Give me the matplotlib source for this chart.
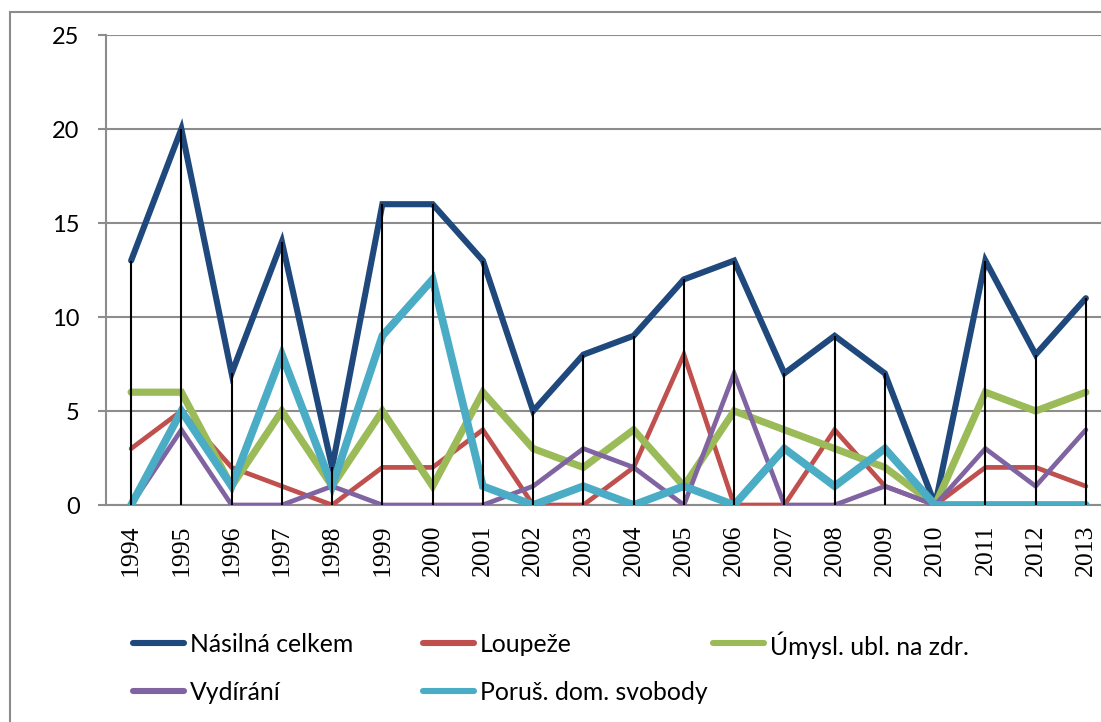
import matplotlib
matplotlib.use("Agg")
import matplotlib.pyplot as plt
from matplotlib.lines import Line2D
from matplotlib.patches import Rectangle
import numpy as np

years = [str(y) for y in range(1994, 2014)]
nasilna = [13, 20, 7, 14, 2, 16, 16, 13, 5, 8, 9, 12, 13, 7, 9, 7, 0, 13, 8, 11]
loupeze = [3, 5, 2, 1, 0, 2, 2, 4, 0, 0, 2, 8, 0, 0, 4, 1, 0, 2, 2, 1]
umysl = [6, 6, 1, 5, 1, 5, 1, 6, 3, 2, 4, 1, 5, 4, 3, 2, 0, 6, 5, 6]
vydirani = [0, 4, 0, 0, 1, 0, 0, 0, 1, 3, 2, 0, 7, 0, 0, 1, 0, 3, 1, 4]
porus = [0, 5, 1, 8, 1, 9, 12, 1, 0, 1, 0, 1, 0, 3, 1, 3, 0, 0, 0, 0]

labels = ["Násilná celkem", "Loupeže", "Úmysl. ubl. na zdr.", "Vydírání", "Poruš. dom. svobody"]
series = [nasilna, loupeze, umysl, vydirani, porus]
colors = ["#1F497D", "#C0504D", "#9BBB59", "#8064A2", "#4BACC6"]
widths = [4.4, 3.4, 5.2, 3.4, 5.6]

W, H = 1101, 722
fig = plt.figure(figsize=(W / 100, H / 100), dpi=100)
fig.patch.set_facecolor("white")

# outer chart border (cropped on right and bottom)
fig.patches.append(Rectangle((10 / W, -0.1), 1.2, (H - 12) / H + 0.1, transform=fig.transFigure,
                             fill=False, edgecolor="#8C8C8C", linewidth=1.5))

left, right, top, bottom = 106, 1111, 35, 505
ax = fig.add_axes([left / W, (H - bottom) / H, (right - left) / W, (bottom - top) / H])
x = np.arange(len(years))

for s, c, lw in zip(series, colors, widths):
    ax.plot(x, s, color=c, lw=lw, solid_capstyle="round", solid_joinstyle="miter", zorder=3)

tops = np.max(np.array(series), axis=0)
ax.vlines(x, 0, tops, colors="black", lw=1.5, zorder=5)

ax.set_xlim(-0.5, len(years) - 0.5)
ax.set_ylim(0, 25)
ax.set_yticks([0, 5, 10, 15, 20, 25])
ax.yaxis.grid(True, color="#8C8C8C", lw=1.5)
ax.set_axisbelow(True)
for sp in ["top", "right"]:
    ax.spines[sp].set_visible(False)
ax.spines["left"].set_color("#8C8C8C")
ax.spines["left"].set_linewidth(1.5)
ax.spines["bottom"].set_color("#8C8C8C")
ax.spines["bottom"].set_linewidth(1.5)
ax.tick_params(axis="y", length=6, width=1.5, color="#8C8C8C", pad=13, labelsize=17)
ax.tick_params(axis="x", length=0, pad=14)
ax.set_xticks(x)
ax.set_xticklabels(years, rotation=90, fontsize=18.5, family="Liberation Serif", va="top")
for t in ax.get_yticklabels():
    t.set_family("Lato")

# legend laid out in fixed-width columns, row-wise
for i, (lab, c) in enumerate(zip(labels, colors)):
    row, col = divmod(i, 3)
    x0 = 133 + 290 * col
    y0 = 643 + 48 * row
    fig.add_artist(Line2D([x0 / W, (x0 + 51) / W], [(H - y0) / H] * 2, transform=fig.transFigure,
                          color=c, lw=4.4, solid_capstyle="round"))
    fig.text((x0 + 57) / W, (H - y0) / H, lab, fontsize=17.8, family="Lato",
             va="center_baseline", ha="left")

fig.savefig("out.png", dpi=100)
